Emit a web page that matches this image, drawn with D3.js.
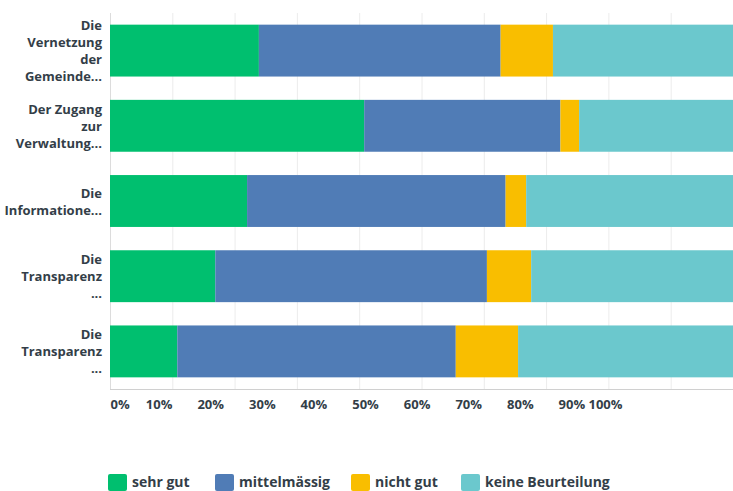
<!DOCTYPE html>
<html>
<head>
<meta charset="utf-8">
<script src="https://cdn.jsdelivr.net/npm/d3@7"></script>
<style>
  body { margin: 0; background: #fff; }
  svg text { font-family: "Open Sans", sans-serif; font-weight: 700; fill: #333e48; }
</style>
</head>
<body>
<div id="chart"></div>
<script>
// values (percent per answer)
var questions = [
  ["Die", "Vernetzung", "der", "Gemeinde..."],
  ["Der Zugang", "zur", "Verwaltung..."],
  ["Die", "Informatione..."],
  ["Die", "Transparenz", "..."],
  ["Die", "Transparenz", "..."]
];
var answers = ["sehr gut", "mittelmässig", "nicht gut", "keine Beurteilung"];
var colors = ["#00bf6f", "#507cb6", "#f9be00", "#6bc8cd"];
var sehrGut = [23.9, 40.8, 22.0, 16.9, 10.8];
var mittel = [38.8, 31.5, 41.5, 43.6, 44.7];
var nichtGut = [8.4, 3.0, 3.3, 7.1, 10.0];
var keine = [28.9, 24.7, 33.2, 32.4, 34.5];
var ticks = [0, 10, 20, 30, 40, 50, 60, 70, 80, 90, 100];

var W = 733, H = 491;
var plotLeft = 110, plotRight = 733, plotTop = 13, plotBottom = 389;

var svg = d3.select("#chart").append("svg").attr("width", W).attr("height", H);

var rows = questions.map(function(q, i) {
  return { i: i, "sehr gut": sehrGut[i], "mittelmässig": mittel[i], "nicht gut": nichtGut[i], "keine Beurteilung": keine[i] };
});
var stack = d3.stack().keys(answers)(rows);

var x = d3.scaleLinear().domain([0, 100]).range([plotLeft, plotRight]);
var y = d3.scaleBand().domain(d3.range(questions.length)).range([plotTop, plotBottom]).paddingInner(0.31).paddingOuter(0.155);

// gridlines
svg.append("g").selectAll("line").data(ticks).enter().append("line")
  .attr("x1", function(d) { return x(d) + 0.5; }).attr("x2", function(d) { return x(d) + 0.5; })
  .attr("y1", plotTop).attr("y2", plotBottom)
  .attr("stroke", function(d) { return d === 0 ? "#dcdcdc" : "#ececec"; });

// bars
svg.append("g").selectAll("g").data(stack).enter().append("g")
  .attr("fill", function(d, i) { return colors[i]; })
  .selectAll("rect").data(function(d) { return d; }).enter().append("rect")
  .attr("x", function(d) { return x(d[0]); })
  .attr("width", function(d) { return x(d[1]) - x(d[0]); })
  .attr("y", function(d) { return y(d.data.i); })
  .attr("height", y.bandwidth());

// bottom axis line
svg.append("line").attr("x1", plotLeft).attr("x2", plotRight).attr("y1", plotBottom + 0.5).attr("y2", plotBottom + 0.5)
  .attr("stroke", "#d0d0d0");

// tick labels (spread on their own scale, as in the original)
var xl = d3.scaleLinear().domain([0, 100]).range([107, 623]);
var ax = svg.append("g").attr("transform", "translate(0," + (plotBottom + 3) + ")")
  .call(d3.axisBottom(xl).tickValues(ticks).tickSize(0).tickPadding(8).tickFormat(function(d) { return d + "%"; }));
ax.select(".domain").remove();
ax.selectAll("text").style("font-size", "13px").attr("font-family", null)
  .attr("text-anchor", function(d) { return d === 0 ? "start" : d === 100 ? "end" : "middle"; })
  .attr("x", function(d) { return d === 0 ? 110 - xl(0) : d === 100 ? 622 - xl(100) : 0; });

// y labels
var lh = 17;
svg.append("g").selectAll("text").data(questions).enter().append("text")
  .attr("text-anchor", "end").style("font-size", "13px")
  .attr("y", function(d, i) { return y(i) + y.bandwidth() / 2 - (d.length - 1) * lh / 2 + 5; })
  .each(function(d) {
    var t = d3.select(this), y0 = +t.attr("y");
    d.forEach(function(s, k) {
      t.append("tspan").attr("x", 102).attr("y", y0 + k * lh).text(s);
    });
  });

// legend
var legX = [108, 215, 351, 461];
var leg = svg.append("g").selectAll("g").data(answers).enter().append("g")
  .attr("transform", function(d, i) { return "translate(" + legX[i] + ",474)"; });
leg.append("rect").attr("width", 19).attr("height", 17).attr("rx", 2)
  .attr("fill", function(d, i) { return colors[i]; });
leg.append("text").attr("x", 24).attr("y", 13).style("font-size", "14px").text(function(d) { return d; });
</script>
</body>
</html>
